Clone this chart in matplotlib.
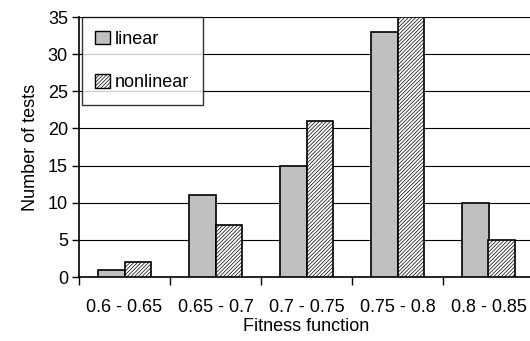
import numpy as np
import matplotlib.pyplot as plt
from matplotlib.patches import Patch

plt.rcParams['font.family'] = ['Liberation Sans', 'DejaVu Sans']
plt.rcParams['hatch.color'] = '#8a8a8a'
plt.rcParams['hatch.linewidth'] = 0.5

# fitness intervals and number of tests per method
categories = ['0.6 - 0.65', '0.65 - 0.7', '0.7 - 0.75', '0.75 - 0.8', '0.8 - 0.85']
linear = [1, 11, 15, 33, 10]
nonlinear = [2, 7, 21, 35, 5]

fig = plt.figure(figsize=(5.30, 3.41), dpi=100)
ax = fig.add_axes([79 / 530, 1 - 277 / 341, 455 / 530, 260 / 341])

x = np.arange(len(categories))
w = 0.29
hatch = '/' * 9
ax.bar(x - w / 2, linear, w, color='#c0c0c0', edgecolor='black', linewidth=1.2, zorder=3)
ax.bar(x + w / 2, nonlinear, w, color='white', edgecolor='black', linewidth=1.2,
       hatch=hatch, zorder=3)

ax.set_xlim(-0.5, 4.5)
ax.set_ylim(0, 35)
ax.set_yticks(range(0, 36, 5))
ax.yaxis.grid(True, color='black', linewidth=0.8, zorder=0)

# category labels centred, tick marks on the boundaries
ax.set_xticks(np.arange(-0.5, 5, 1))
ax.set_xticklabels([])
ax.set_xticks(x, minor=True)
ax.set_xticklabels(categories, minor=True)
ax.tick_params(axis='x', which='minor', length=0, pad=16, labelsize=13)
ax.tick_params(axis='x', which='major', length=6, width=1, direction='out')
ax.tick_params(axis='y', length=5, width=1, labelsize=13, pad=3)

for s in ['top', 'right']:
    ax.spines[s].set_visible(False)
ax.spines['left'].set_linewidth(1.2)
ax.spines['bottom'].set_linewidth(1.2)

ax.set_xlabel('Fitness function', fontsize=13, labelpad=1)
ax.set_ylabel('Number of tests', fontsize=13, labelpad=6)

handles = [Patch(facecolor='#c0c0c0', edgecolor='black', label='linear'),
           Patch(facecolor='white', edgecolor='black', hatch=hatch, label='nonlinear')]
leg = ax.legend(handles=handles, loc='upper left', bbox_to_anchor=(0.006, 1.0),
                fontsize=13, frameon=True, fancybox=False, borderpad=0.75,
                labelspacing=1.45, handlelength=0.8, handleheight=0.8,
                handletextpad=0.3, borderaxespad=0)
leg.get_frame().set_edgecolor('black')
leg.get_frame().set_linewidth(1.0)

fig.savefig('out.png', dpi=100)
